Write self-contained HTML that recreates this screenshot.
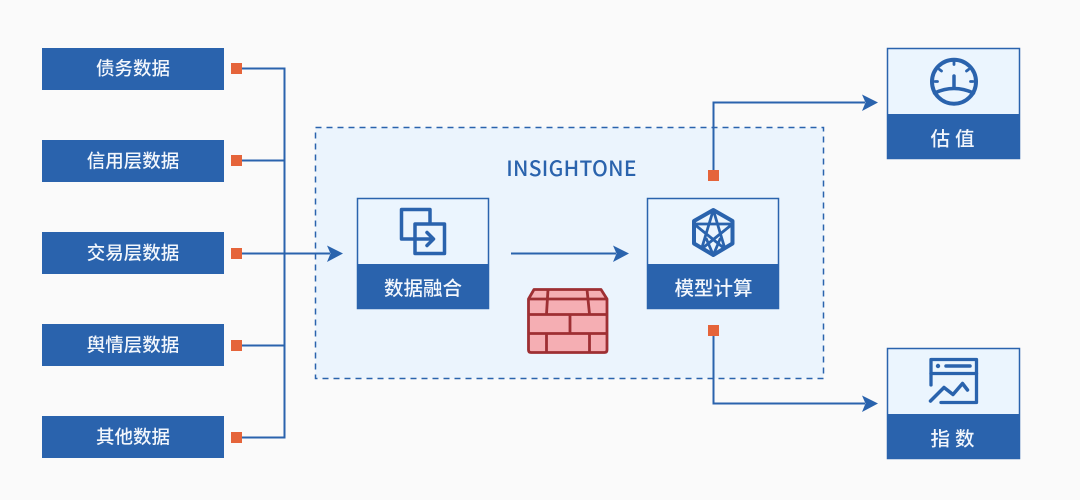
<!DOCTYPE html>
<html lang="zh">
<head>
<meta charset="utf-8">
<style>
html,body{margin:0;padding:0;width:1080px;height:500px;overflow:hidden;background:#fafafa}
svg{display:block}
text{font-family:"Liberation Sans","Noto Sans CJK SC",sans-serif;fill:#f2f6fc;text-anchor:middle;font-size:18px;font-weight:500}
</style>
</head>
<body>
<svg width="1080" height="500" viewBox="0 0 1080 500" xmlns="http://www.w3.org/2000/svg">
<rect width="1080" height="500" fill="#fafafa"/>

<!-- central dashed region -->
<rect x="315.500" y="127.500" width="508" height="251" fill="#ebf4fd" stroke="#2a63ad" stroke-width="1.500" stroke-dasharray="6 5"/>
<text x="571.500" y="176" style="font-family:'Noto Sans CJK SC',sans-serif;font-size:21px;fill:#2a63ad;letter-spacing:.3px">INSIGHTONE</text>

<!-- left data boxes -->
<g fill="#2a63ad">
<rect x="42" y="48" width="182" height="42"/>
<rect x="42" y="140" width="182" height="42"/>
<rect x="42" y="232" width="182" height="42"/>
<rect x="42" y="324" width="182" height="42"/>
<rect x="42" y="416" width="182" height="42"/>
</g>
<text x="133" y="75" style="font-size:18.500px">债务数据</text>
<text x="133" y="167.500" style="font-size:18.500px">信用层数据</text>
<text x="133" y="259.500" style="font-size:18.500px">交易层数据</text>
<text x="133" y="351.500" style="font-size:18.500px">舆情层数据</text>
<text x="133" y="443.500" style="font-size:18.500px">其他数据</text>

<!-- connectors -->
<g fill="none" stroke="#2a63ad" stroke-width="2">
<path d="M242 68.500H284.500V437.500H242"/>
<path d="M242 160.500H284.500"/>
<path d="M242 345.500H284.500"/>
<path d="M242 253.500H330"/>
<path d="M511 253.500H616"/>
<path d="M713.500 170V102.500H865"/>
<path d="M713.500 336V403.500H865"/>
</g>
<g fill="#2a63ad">
<path d="M327 245.500L343 253.500L327 262L330.500 253.500Z"/>
<path d="M613 245.500L629 253.500L613 262L616.500 253.500Z"/>
<path d="M862 94.500L878 102.500L862 111L865.500 102.500Z"/>
<path d="M862 395.500L878 403.500L862 412L865.500 403.500Z"/>
</g>
<g fill="#e5643a">
<rect x="231" y="63" width="11" height="11"/>
<rect x="231" y="155" width="11" height="11"/>
<rect x="231" y="248" width="11" height="11"/>
<rect x="231" y="340" width="11" height="11"/>
<rect x="231" y="432" width="11" height="11"/>
<rect x="708" y="170" width="11" height="11"/>
<rect x="708" y="325" width="11" height="11"/>
</g>

<!-- module boxes -->
<g fill="#ebf5fe" stroke="#2a63ad" stroke-width="1.500">
<rect x="357.500" y="198.500" width="131" height="110"/>
<rect x="647.500" y="198.500" width="131" height="110"/>
<rect x="887.500" y="48.500" width="132" height="110"/>
<rect x="887.500" y="348.500" width="132" height="110"/>
</g>
<g fill="#2a63ad">
<rect x="357" y="264" width="132" height="45"/>
<rect x="647" y="264" width="132" height="45"/>
<rect x="887" y="114" width="133" height="45"/>
<rect x="887" y="414" width="133" height="45"/>
</g>
<text x="423" y="295" style="font-size:19.500px">数据融合</text>
<text x="713.500" y="295" style="font-size:19.500px">模型计算</text>
<text x="955" y="145.500" style="font-size:19.500px;letter-spacing:5px">估值</text>
<text x="955" y="445.500" style="font-size:19.500px;letter-spacing:5px">指数</text>

<!-- merge icon -->
<g fill="none" stroke="#2a63ad" stroke-width="3.500" stroke-linejoin="round" stroke-linecap="round">
<path d="M414 239H401.500V209.500H430V223"/>
<rect x="415" y="224" width="29.500" height="29.500"/>
<path d="M415 239H432"/>
<path d="M427 232.500L433.500 239L427 245.500"/>
</g>

<!-- hexagon icon -->
<g fill="none" stroke="#2a63ad" stroke-linejoin="round">
<path d="M713.300 210L732.500 221V243.500L713.300 255L694 243.500V221Z" stroke-width="4"/>
<path d="M713.300 210L725 249M713.300 210L701.500 249M694 224H732.500M694 224L725 249M732.500 224L701.500 249M713.300 255L706 238M713.300 255L720.500 238" stroke-width="2.800"/>
</g>

<!-- gauge icon -->
<g fill="none" stroke="#2a63ad" stroke-width="4" stroke-linecap="round">
<circle cx="954" cy="81.700" r="22"/>
<path d="M934.500 93Q954 84 973.500 93" stroke-width="3.500"/>
<path d="M954 76V87" stroke-width="3.500"/>
<path d="M954 62V64.500M939.500 69.500L941.500 71M968.500 69.500L966.500 71M935 81.500H937.500M973 81.500H970.500" stroke-width="2.800"/>
</g>

<!-- index icon -->
<g fill="none" stroke="#2a63ad" stroke-width="3.300" stroke-linecap="round" stroke-linejoin="round">
<path d="M931 385V359.500H976.500V402.500H941"/>
<path d="M931 373.500H976.500"/>
<path d="M946 366H970" stroke-width="3.500"/>
<path d="M930.500 401L944 387.500L953 394.500L962.500 383.500L967.500 390" stroke-width="3.500"/>
</g>
<circle cx="938" cy="366" r="2.200" fill="#2a63ad"/>

<!-- firewall icon -->
<g stroke="#9e2f33" stroke-width="2.800" stroke-linejoin="round">
<path d="M534 289.500H601L607 299V350Q607 352.500 604.500 352.500H531Q528.500 352.500 528.500 350V299Z" fill="#f5aeb3"/>
<path d="M528.500 299H607" fill="none"/>
<path d="M548 289.500L546.500 314M587 289.500L589.500 314M528.500 314.500H607M570 314.500V333.500M528.500 333.500H607M546.500 333.500V352.500M589.500 333.500V352.500" fill="none"/>
</g>
</svg>
</body>
</html>
